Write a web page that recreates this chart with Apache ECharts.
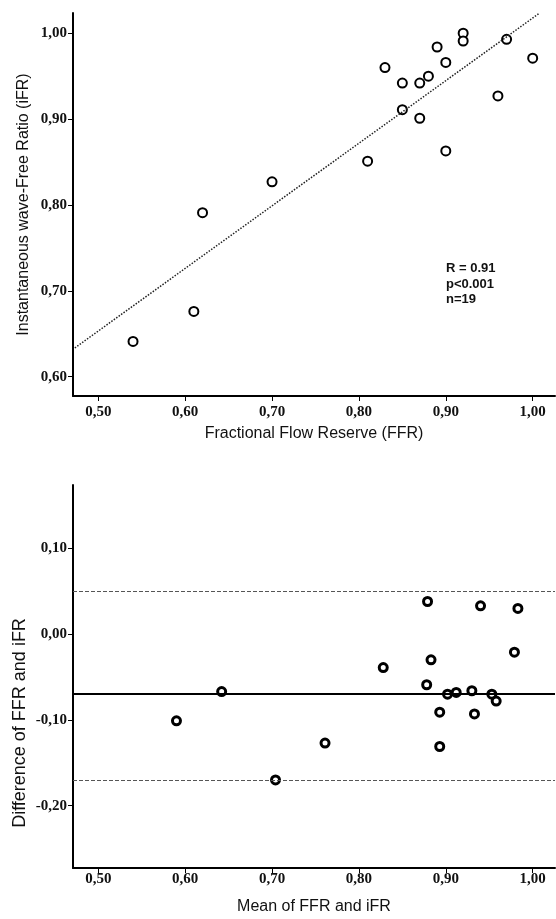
<!DOCTYPE html>
<html>
<head>
<meta charset="utf-8">
<script src="https://cdn.jsdelivr.net/npm/echarts@6/dist/echarts.min.js"></script>
<style>
  html, body { margin: 0; padding: 0; background: #fff; }
  #chart { width: 556px; height: 919px; }
</style>
</head>
<body>
<div id="chart"></div>
<script>
// scatter: FFR vs iFR
const ffr = [0.92, 0.92, 0.97, 1.00, 0.89, 0.90, 0.83, 0.85, 0.87, 0.88, 0.96, 0.85, 0.87, 0.90, 0.81, 0.70, 0.62, 0.61, 0.54];
const ifr = [1.000, 0.991, 0.993, 0.971, 0.984, 0.966, 0.960, 0.942, 0.942, 0.950, 0.927, 0.911, 0.901, 0.863, 0.851, 0.827, 0.791, 0.676, 0.641];

// regression line (dotted)
const fitSlope = 0.729;
const fitIntercept = 0.2887;
const fitRange = [0.473, 1.007];

// Bland-Altman: mean vs difference
const baMean = [0.879, 0.940, 0.983, 0.979, 0.883, 0.828, 0.642, 0.590, 0.761, 0.704, 0.878, 0.902, 0.912, 0.930, 0.953, 0.958, 0.893, 0.933, 0.893];
const baDiff = [0.038, 0.033, 0.030, -0.021, -0.030, -0.039, -0.067, -0.101, -0.127, -0.170, -0.059, -0.070, -0.068, -0.066, -0.070, -0.078, -0.091, -0.093, -0.131];
const baMeanDiff = -0.066;
const baLimits = [0.048, -0.172];

const xTicks = [0.5, 0.6, 0.7, 0.8, 0.9, 1.0];
const topYTicks = [0.6, 0.7, 0.8, 0.9, 1.0];
const bottomYTicks = [-0.2, -0.1, 0.0, 0.1];

const statsText = ["R = 0.91", "p<0.001", "n=19"];

const fmt = (v) => v.toFixed(2).replace(".", ",");
const tickFont = { fontFamily: "Liberation Serif", fontWeight: "bold", fontSize: 15, color: "#111" };
const nameFont = { fontFamily: "Liberation Sans", fontSize: 16, color: "#111" };

function xAxisOf(gridIndex, name, nameGap, labelMargin) {
  return {
    type: "value", gridIndex, min: 0.4709, max: 1.0257,
    name, nameLocation: "middle", nameGap, nameTextStyle: nameFont,
    axisLine: { onZero: false, lineStyle: { color: "#000", width: 2 } },
    axisTick: { show: true, length: 5, customValues: xTicks, lineStyle: { color: "#000" } },
    axisLabel: { customValues: xTicks, formatter: fmt, margin: labelMargin, ...tickFont },
    splitLine: { show: false }
  };
}

function yAxisOf(gridIndex, name, min, max, ticks, nameGap, nameStyle) {
  return {
    type: "value", gridIndex, min, max,
    name, nameLocation: "middle", nameGap, nameTextStyle: nameStyle, nameMoveOverlap: false,
    axisLine: { onZero: false, lineStyle: { color: "#000", width: 2 } },
    axisTick: { show: true, length: 5, customValues: ticks, lineStyle: { color: "#000" } },
    axisLabel: { customValues: ticks, formatter: fmt, margin: 6, ...tickFont },
    splitLine: { show: false }
  };
}

const chart = echarts.init(document.getElementById("chart"));
chart.setOption({
  animation: false,
  backgroundColor: "#fff",
  grid: [
    { left: 73, top: 13, width: 482, height: 383, outerBoundsMode: "none" },
    { left: 73, top: 485, width: 482, height: 383, outerBoundsMode: "none" }
  ],
  xAxis: [
    xAxisOf(0, "Fractional Flow Reserve (FFR)", 30, 9),
    xAxisOf(1, "Mean of FFR and iFR", 31, 4)
  ],
  yAxis: [
    yAxisOf(0, "Instantaneous wave-Free Ratio (iFR)", 0.5775, 1.0236, topYTicks, 41, nameFont),
    yAxisOf(1, "Difference of FFR and iFR", -0.2726, 0.1738, bottomYTicks, 44,
      { ...nameFont, fontSize: 18, padding: [0, 93, 0, 0] })
  ],
  graphic: [
    {
      type: "text", left: 446, top: 261,
      style: { text: statsText.join("\n"), font: "bold 13px Liberation Sans", fill: "#111", lineHeight: 15.5 }
    }
  ],
  series: [
    {
      type: "line", xAxisIndex: 0, yAxisIndex: 0, symbol: "none",
      data: fitRange.map((x) => [x, fitIntercept + fitSlope * x]),
      lineStyle: { type: "dotted", width: 1.5, color: "#222" }
    },
    {
      type: "scatter", xAxisIndex: 0, yAxisIndex: 0, symbol: "circle", symbolSize: 9,
      data: ffr.map((x, i) => [x, ifr[i]]),
      itemStyle: { color: "#fff", borderColor: "#000", borderWidth: 2, opacity: 1 }
    },
    {
      type: "scatter", xAxisIndex: 1, yAxisIndex: 1, symbol: "circle", symbolSize: 8,
      data: baMean.map((x, i) => [x, baDiff[i]]),
      itemStyle: { color: "#fff", borderColor: "#000", borderWidth: 3, opacity: 1 },
      markLine: {
        silent: true, symbol: "none", label: { show: false },
        data: [
          { yAxis: baMeanDiff, lineStyle: { type: "solid", width: 2, color: "#000" } },
          { yAxis: baLimits[0], lineStyle: { type: "dashed", width: 1, color: "#555" } },
          { yAxis: baLimits[1], lineStyle: { type: "dashed", width: 1, color: "#555" } }
        ]
      },
      z: 3
    }
  ]
});
</script>
</body>
</html>
